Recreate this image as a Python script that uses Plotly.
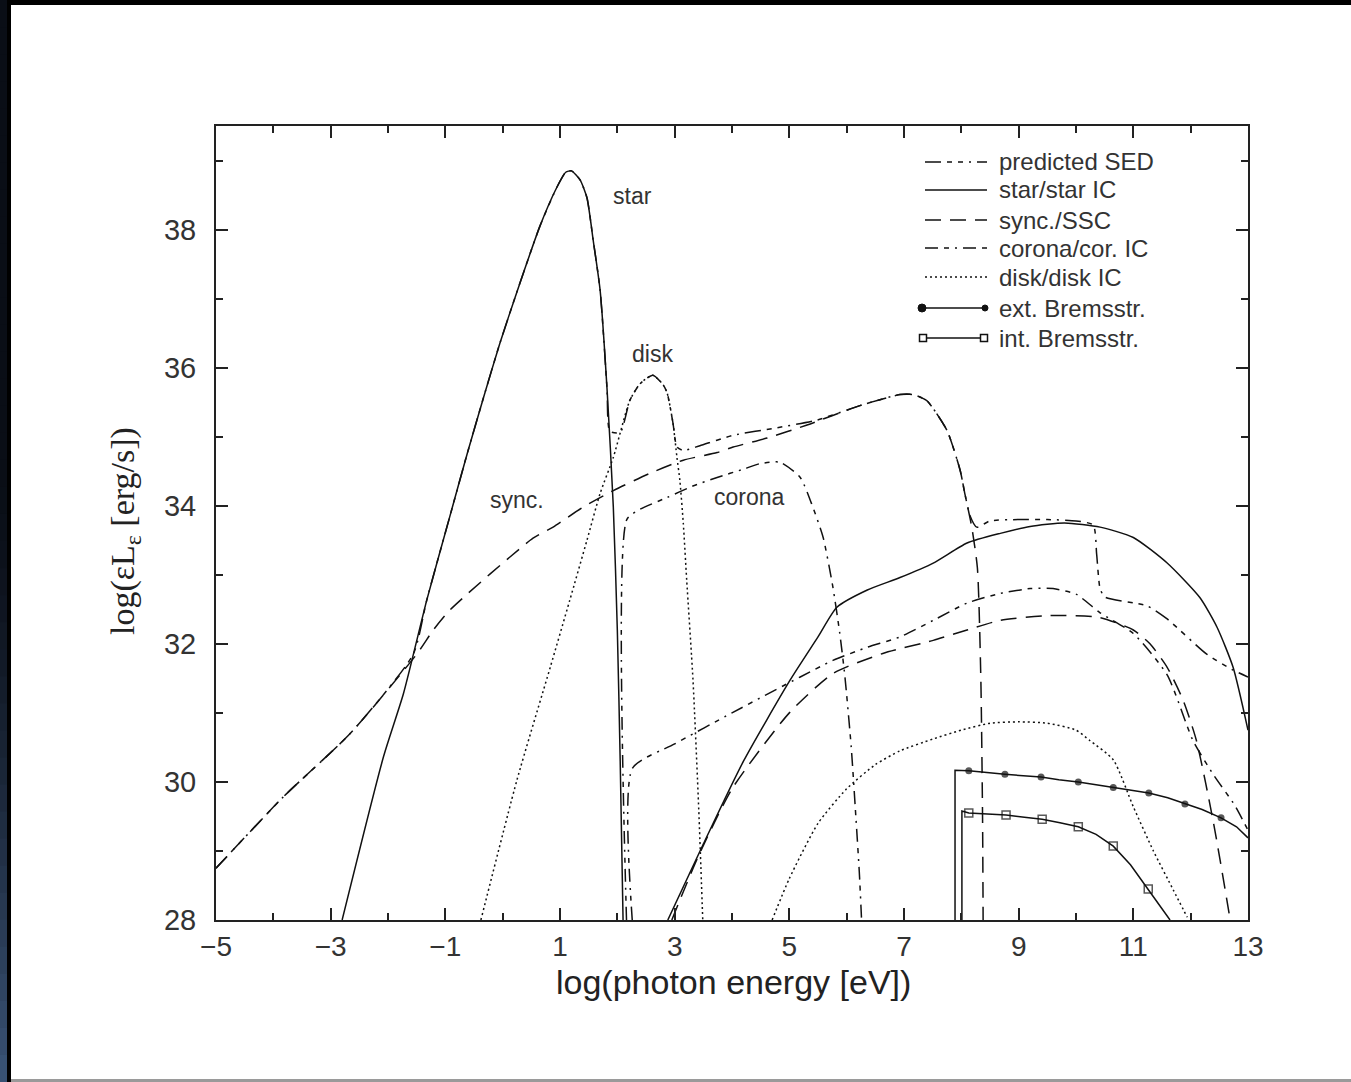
import plotly.graph_objects as go

# ---- spectral components: log10(photon energy / eV) vs log10(eps*L_eps / erg s^-1) ----
x_star = [-2.80, -2.08, -1.73, -1.325, -0.92, -0.62, -0.34, -0.05, 0.25, 0.65, 0.95, 1.10, 1.20,
          1.35, 1.47, 1.58, 1.70, 1.82, 1.93, 2.00, 2.05, 2.10]
y_star = [28.0, 30.36, 31.28, 32.63, 33.85, 34.75, 35.55, 36.35, 37.10, 38.05, 38.62, 38.83, 38.85,
          38.72, 38.46, 37.84, 37.12, 35.70, 33.98, 32.20, 30.30, 28.0]

x_disk = [-0.38, 0.25, 0.83, 1.17, 1.47, 1.70, 1.93, 2.22, 2.40, 2.62, 2.80, 2.87, 2.97, 3.04,
          3.09, 3.15, 3.21, 3.32, 3.42, 3.49]
y_disk = [28.0, 30.03, 31.66, 32.63, 33.50, 34.18, 34.70, 35.53, 35.77, 35.89, 35.75, 35.63, 35.20,
          34.70, 34.37, 33.75, 32.92, 31.47, 29.60, 28.0]

x_sync = [-5.0, -3.83, -2.66, -1.49, -1.21, -0.92, 0.53, 0.88, 1.40, 1.93, 2.57, 3.15, 3.74, 4.02,
          4.61, 5.31, 6.23, 6.93, 7.16, 7.40, 7.75, 7.98, 8.06, 8.18, 8.28, 8.34, 8.37, 8.38]
y_sync = [28.75, 29.78, 30.70, 31.86, 32.20, 32.49, 33.53, 33.69, 33.98, 34.22, 34.47, 34.66, 34.77,
          34.85, 34.98, 35.17, 35.45, 35.61, 35.61, 35.52, 35.09, 34.51, 34.18, 33.70, 33.10, 31.50,
          29.50, 28.0]

x_corona = [2.16, 2.165, 2.40, 2.87, 3.30, 3.74, 4.20, 4.49, 4.84, 5.19, 5.41, 5.59, 5.76, 5.88,
            5.97, 6.08, 6.16, 6.22, 6.26]
y_corona = [28.0, 33.80, 33.95, 34.12, 34.28, 34.41, 34.53, 34.61, 34.63, 34.41, 33.98, 33.54, 32.82,
            32.15, 31.52, 30.50, 29.50, 28.70, 28.0]

x_star_ic = [2.88, 3.50, 4.20, 5.01, 5.50, 5.83, 6.36, 6.93, 7.51, 8.10, 8.68, 9.20, 9.80, 10.42,
             11.00, 11.59, 12.16, 12.46, 12.74, 13.0]
y_star_ic = [28.0, 29.10, 30.30, 31.47, 32.10, 32.53, 32.78, 32.96, 33.17, 33.46, 33.60, 33.70, 33.75,
             33.69, 33.54, 33.17, 32.67, 32.24, 31.66, 30.75]

x_ssc = [2.95, 3.40, 4.00, 5.00, 5.76, 6.63, 7.51, 8.10, 8.68, 9.55, 10.42, 11.00, 11.29, 11.59,
         11.87, 12.10, 12.40, 12.69]
y_ssc = [28.0, 28.90, 29.90, 31.00, 31.57, 31.86, 32.05, 32.20, 32.34, 32.41, 32.38, 32.20, 32.00,
         31.66, 31.18, 30.60, 29.40, 28.0]

x_cor_ic = [2.26, 2.265, 3.00, 4.00, 5.19, 5.76, 6.36, 6.93, 7.51, 8.10, 8.68, 9.20, 9.60, 10.00,
            10.42, 11.00, 11.59, 12.04, 12.40, 12.77, 13.0]
y_cor_ic = [28.0, 30.20, 30.55, 31.00, 31.52, 31.76, 31.95, 32.10, 32.34, 32.59, 32.73, 32.80, 32.80,
            32.72, 32.45, 32.15, 31.55, 30.60, 30.10, 29.66, 29.30]

x_disk_ic = [4.70, 5.00, 5.50, 6.00, 6.50, 6.93, 7.50, 8.00, 8.50, 9.00, 9.50, 10.00, 10.24, 10.65,
             11.00, 11.35, 11.70, 11.94]
y_disk_ic = [28.0, 28.60, 29.40, 29.90, 30.25, 30.45, 30.62, 30.75, 30.85, 30.87, 30.85, 30.75, 30.60,
             30.32, 29.64, 29.00, 28.43, 28.04]

x_pred = [-5.0, -3.83, -2.66, -1.56, -1.325, -0.92, -0.62, -0.34, -0.05, 0.25, 0.65, 0.95, 1.10,
          1.20, 1.35, 1.47, 1.58, 1.70, 1.82, 1.87, 2.05, 2.22, 2.40, 2.62, 2.80, 2.87, 2.97, 3.04,
          3.15, 3.44, 4.02, 4.79, 5.48, 6.23, 6.93, 7.16, 7.40, 7.75, 7.98, 8.06, 8.15, 8.27, 8.50,
          9.00, 9.50, 10.00, 10.30, 10.36, 10.42, 10.50, 11.24, 11.59, 12.28, 12.74, 13.0]
y_pred = [28.75, 29.78, 30.70, 31.85, 32.63, 33.85, 34.75, 35.55, 36.35, 37.10, 38.05, 38.62, 38.83,
          38.85, 38.72, 38.46, 37.84, 37.12, 35.70, 35.08, 35.06, 35.53, 35.77, 35.89, 35.75, 35.63,
          35.20, 34.85, 34.80, 34.87, 35.02, 35.13, 35.24, 35.45, 35.61, 35.61, 35.52, 35.09, 34.51,
          34.18, 33.86, 33.69, 33.78, 33.80, 33.80, 33.78, 33.72, 33.30, 32.80, 32.68, 32.55, 32.36,
          31.85, 31.62, 31.52]

x_ext_brems = [7.89, 7.89, 8.13, 8.45, 8.76, 9.08, 9.39, 9.70, 10.04, 10.35, 10.65, 10.96, 11.27,
               11.60, 11.90, 12.20, 12.53, 12.80, 13.0]
y_ext_brems = [28.0, 30.17, 30.16, 30.13, 30.11, 30.09, 30.07, 30.03, 30.00, 29.96, 29.92, 29.88,
               29.84, 29.77, 29.68, 29.60, 29.48, 29.35, 29.19]
ext_marked = [0, 0, 1, 0, 1, 0, 1, 0, 1, 0, 1, 0, 1, 0, 1, 0, 1, 0, 0]

x_int_brems = [8.01, 8.01, 8.13, 8.45, 8.78, 9.10, 9.41, 9.72, 10.04, 10.35, 10.65, 10.95, 11.26,
               11.45, 11.64]
y_int_brems = [28.0, 29.58, 29.55, 29.54, 29.52, 29.49, 29.46, 29.41, 29.35, 29.24, 29.07, 28.80,
               28.45, 28.22, 28.0]
int_marked = [0, 0, 1, 0, 1, 0, 1, 0, 1, 0, 1, 0, 1, 0, 0]

x_ticks = [-5, -3, -1, 1, 3, 5, 7, 9, 11, 13]
y_ticks = [28, 30, 32, 34, 36, 38]

legend_labels = ["predicted SED", "star/star IC", "sync./SSC", "corona/cor. IC", "disk/disk IC",
                 "ext. Bremsstr.", "int. Bremsstr."]

# ---- styles ----
INK = "#111111"
LW = 1.5
DASH_PRED = "16px,6px,5px,6px,5px,6px,2px,6px"
DASH_SYNC = "16px,9px"
DASH_COR = "13px,6px,5px,6px,2px,6px"
DASH_DISK = "2px,3px"
FONT = "Liberation Sans, Arial, sans-serif"

# plot-area geometry in pixels
L, R, T, B = 216, 1248, 126, 920
W, H = 1351, 1082


def px(p):
    return (p - L) / (R - L)


def py(p):
    return (B - p) / (B - T)


fig = go.Figure()


def add_curve(xs, ys, dash, shape="spline"):
    fig.add_trace(go.Scatter(x=xs, y=ys, mode="lines", showlegend=False, hoverinfo="skip",
                             line=dict(color=INK, width=LW, dash=dash, shape=shape,
                                       smoothing=0.6 if shape == "spline" else None)))


add_curve(x_sync, y_sync, DASH_SYNC)
add_curve(x_ssc, y_ssc, DASH_SYNC)
add_curve(x_corona, y_corona, DASH_COR)
add_curve(x_cor_ic, y_cor_ic, DASH_COR)
add_curve(x_disk, y_disk, DASH_DISK)
add_curve(x_disk_ic, y_disk_ic, DASH_DISK)
add_curve(x_star, y_star, "solid")
add_curve(x_star_ic, y_star_ic, "solid")
add_curve(x_pred, y_pred, DASH_PRED)

fig.add_trace(go.Scatter(
    x=x_ext_brems, y=y_ext_brems, mode="lines+markers", showlegend=False, hoverinfo="skip",
    line=dict(color=INK, width=LW),
    marker=dict(symbol="circle", color=INK, size=[7 if m else 0 for m in ext_marked],
                line=dict(width=0))))
fig.add_trace(go.Scatter(
    x=x_int_brems, y=y_int_brems, mode="lines+markers", showlegend=False, hoverinfo="skip",
    line=dict(color=INK, width=LW),
    marker=dict(symbol="square-open", color=INK, size=[8 if m else 0 for m in int_marked],
                line=dict(width=1.5))))

# curve labels
for text, xv, yv in [("star", 2.27, 38.49), ("disk", 2.61, 36.2), ("sync.", 0.25, 34.08),
                     ("corona", 4.31, 34.12)]:
    fig.add_annotation(x=xv, y=yv, text=text, showarrow=False,
                       font=dict(family=FONT, size=23, color="#333333"))

# ---- legend drawn in the upper right corner ----
shapes = []
rows = [162, 190, 220, 248, 277, 308, 338]
dashes = [DASH_PRED, "solid", DASH_SYNC, DASH_COR, DASH_DISK, "solid", "solid"]
for label, yrow, dash in zip(legend_labels, rows, dashes):
    x0, x1 = (922, 985) if label.endswith("Bremsstr.") else (925, 987)
    shapes.append(dict(type="line", xref="paper", yref="paper", x0=px(x0), x1=px(x1),
                       y0=py(yrow), y1=py(yrow), line=dict(color=INK, width=LW, dash=dash)))
    fig.add_annotation(xref="paper", yref="paper", x=px(997), y=py(yrow), text=label,
                       showarrow=False, xanchor="left", yanchor="middle",
                       font=dict(family=FONT, size=24, color="#333333"))
# ext. Bremsstr. end markers
for cx, r in [(922, 4), (985, 3)]:
    shapes.append(dict(type="circle", xref="paper", yref="paper", x0=px(cx - r), x1=px(cx + r),
                       y0=py(rows[5] + r), y1=py(rows[5] - r), fillcolor=INK,
                       line=dict(color=INK, width=1)))
# int. Bremsstr. end markers
for cx in (923, 984):
    shapes.append(dict(type="rect", xref="paper", yref="paper", x0=px(cx - 3.5), x1=px(cx + 3.5),
                       y0=py(rows[6] + 3.5), y1=py(rows[6] - 3.5), fillcolor="white",
                       line=dict(color=INK, width=1.5)))

# ---- page frame: dark band on top and left, grey rule at the bottom ----
shapes.append(dict(type="rect", xref="paper", yref="paper", x0=px(-5), x1=px(W + 5),
                   y0=py(5), y1=py(-5), fillcolor="#000000", line=dict(width=0), layer="above"))
n_strips = 40
for i in range(n_strips):
    y0p, y1p = H * i / n_strips, H * (i + 1) / n_strips
    t = max(0.0, (y0p - 450) / (H - 450))
    rr, gg, bb = int(10 + 50 * t ** 1.5), int(14 + 72 * t ** 1.5), int(22 + 100 * t ** 1.5)
    shapes.append(dict(type="rect", xref="paper", yref="paper", x0=px(-5), x1=px(7),
                       y0=py(y1p + 1), y1=py(y0p), fillcolor=f"rgb({rr},{gg},{bb})",
                       line=dict(width=0), layer="above"))
shapes.append(dict(type="rect", xref="paper", yref="paper", x0=px(7), x1=px(11),
                   y0=py(H + 5), y1=py(0), fillcolor="#000000", line=dict(width=0), layer="above"))
shapes.append(dict(type="rect", xref="paper", yref="paper", x0=px(11), x1=px(W + 5),
                   y0=py(1082), y1=py(1079), fillcolor="#9a9a9a", line=dict(width=0), layer="above"))

# axis titles
fig.add_annotation(xref="paper", yref="paper", x=px(102), y=py(531), textangle=-90,
                   text="log(εL<sub>ε</sub> [erg/s])", showarrow=False,
                   font=dict(family="Liberation Serif, Times New Roman, serif", size=34,
                             color="#222222"))
fig.add_annotation(xref="paper", yref="paper", x=px(733), y=py(982), yanchor="middle",
                   text="log(photon energy [eV])", showarrow=False,
                   font=dict(family=FONT, size=34, color="#222222"))

axis_common = dict(showgrid=False, zeroline=False, showline=True, linecolor="#222222",
                   linewidth=2, mirror="ticks", ticks="inside", ticklen=12, tickwidth=2,
                   tickcolor="#222222")

fig.update_layout(
    width=W, height=H, margin=dict(l=L, r=W - R, t=T, b=H - B),
    paper_bgcolor="white", plot_bgcolor="white", showlegend=False, shapes=shapes,
    xaxis=dict(range=[-5, 13], tickmode="array", tickvals=x_ticks,
               ticktext=[str(v).replace("-", "−") for v in x_ticks],
               ticklabelstandoff=0, tickfont=dict(family=FONT, size=28, color="#333333"),
               minor=dict(tickvals=[v + 1 for v in x_ticks[:-1]], ticks="inside", ticklen=7,
                          tickwidth=2, tickcolor="#222222"),
               **axis_common),
    yaxis=dict(range=[28, 39.5], tickmode="array", tickvals=y_ticks, ticklabelstandoff=12,
               tickfont=dict(family=FONT, size=29, color="#333333"),
               minor=dict(tickvals=[v + 1 for v in y_ticks], ticks="inside", ticklen=7,
                          tickwidth=2, tickcolor="#222222"),
               **axis_common),
)

fig.write_html("out.html")
